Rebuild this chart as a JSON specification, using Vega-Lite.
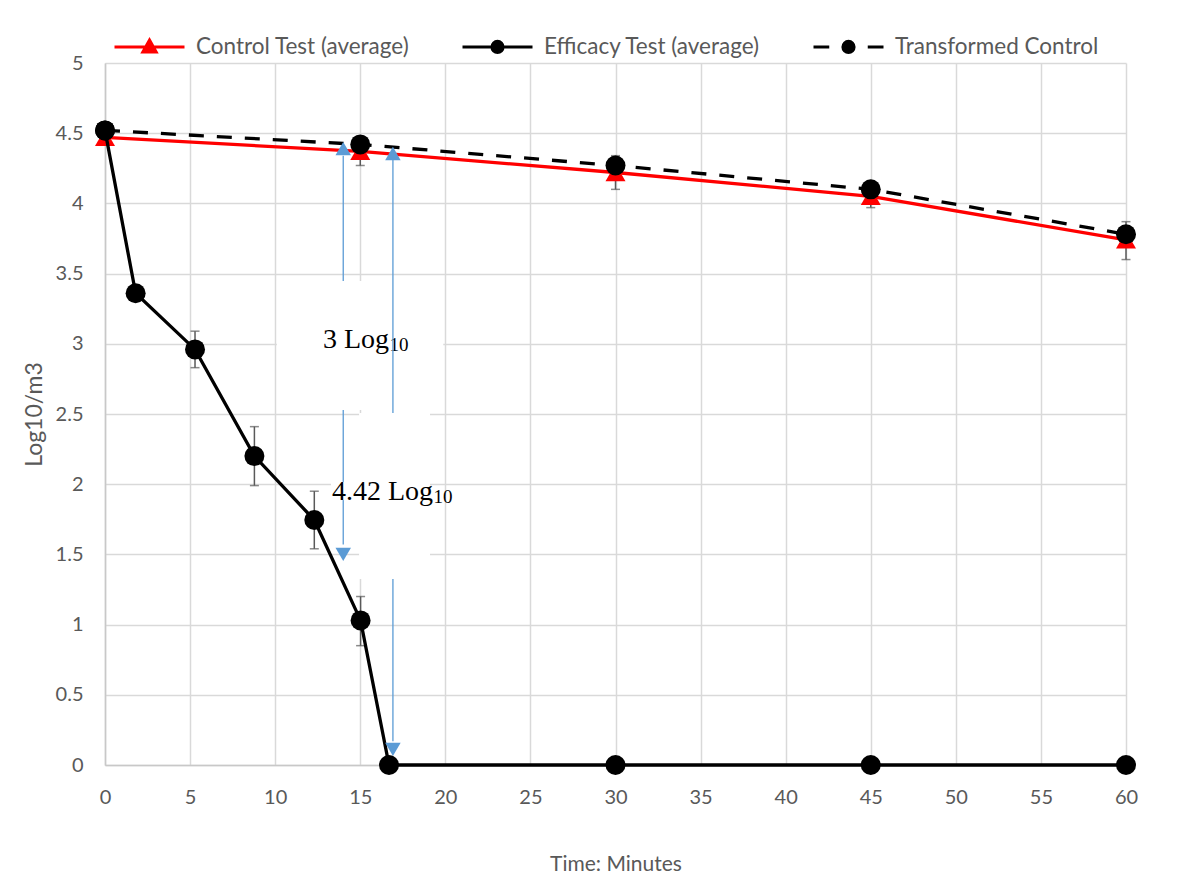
{
  "$schema": "https://vega.github.io/schema/vega-lite/v6.json",
  "width": 1021,
  "height": 702,
  "autosize": {"type": "none"},
  "padding": {"left": 105, "top": 63, "right": 54, "bottom": 131},
  "background": "white",
  "config": {
    "view": {"stroke": null},
    "font": "Lato",
    "axis": {
      "gridColor": "#D9D9D9", "gridWidth": 1.5,
      "domainColor": "#C8C8C8", "domainWidth": 1.5,
      "ticks": false,
      "labelColor": "#595959", "labelFont": "Lato", "labelFontSize": 20,
      "titleColor": "#595959", "titleFont": "Lato", "titleFontSize": 21, "titleFontWeight": "normal"
    }
  },
  "datasets": {
    "control": [
      {"t": 0, "v": 4.47}, {"t": 15, "v": 4.37}, {"t": 30, "v": 4.22}, {"t": 45, "v": 4.05}, {"t": 60, "v": 3.74}
    ],
    "transformed": [
      {"t": 0, "v": 4.52}, {"t": 15, "v": 4.42}, {"t": 30, "v": 4.27}, {"t": 45, "v": 4.10}, {"t": 60, "v": 3.78}
    ],
    "efficacy": [
      {"t": 0, "v": 4.52}, {"t": 1.8, "v": 3.36}, {"t": 5.29, "v": 2.96}, {"t": 8.78, "v": 2.2},
      {"t": 12.3, "v": 1.745}, {"t": 15.02, "v": 1.03}, {"t": 16.69, "v": 0},
      {"t": 30, "v": 0}, {"t": 45, "v": 0}, {"t": 60, "v": 0}
    ],
    "errors": [
      {"t": 5.29, "v": 2.83, "v2": 3.09}, {"t": 8.78, "v": 1.99, "v2": 2.41},
      {"t": 12.3, "v": 1.54, "v2": 1.95}, {"t": 15.02, "v": 0.85, "v2": 1.2},
      {"t": 15, "v": 4.27, "v2": 4.43}, {"t": 30, "v": 4.1, "v2": 4.34},
      {"t": 45, "v": 3.97, "v2": 4.13}, {"t": 60, "v": 3.6, "v2": 3.87}
    ]
  },
  "layer": [
    {
      "data": {"name": "errors"},
      "mark": {"type": "rule", "color": "#595959", "strokeWidth": 1.5},
      "encoding": {
        "x": {"field": "t", "type": "quantitative", "scale": {"domain": [0, 60], "nice": false},
              "axis": {"values": [0,5,10,15,20,25,30,35,40,45,50,55,60], "title": "Time: Minutes", "labelPadding": 22, "titlePadding": 46, "grid": true, "domain": true, "labelFlush": false}},
        "y": {"field": "v", "type": "quantitative", "scale": {"domain": [0, 5], "nice": false},
              "axis": {"values": [0,0.5,1,1.5,2,2.5,3,3.5,4,4.5,5], "format": "~g", "title": "Log10/m3", "titleFontSize": 23, "labelPadding": 22, "titlePadding": 9, "grid": true, "domain": true}},
        "y2": {"field": "v2"}
      }
    },
    {
      "data": {"name": "errors"},
      "mark": {"type": "tick", "orient": "horizontal", "color": "#595959", "size": 9, "thickness": 1.5},
      "encoding": {
        "x": {"field": "t", "type": "quantitative"},
        "y": {"field": "v", "type": "quantitative"}
      }
    },
    {
      "data": {"name": "errors"},
      "mark": {"type": "tick", "orient": "horizontal", "color": "#595959", "size": 9, "thickness": 1.5},
      "encoding": {
        "x": {"field": "t", "type": "quantitative"},
        "y": {"field": "v2", "type": "quantitative"}
      }
    },
    {
      "data": {"name": "control"},
      "mark": {"type": "line", "color": "#FF0000", "strokeWidth": 3.3},
      "encoding": {"x": {"field": "t", "type": "quantitative"}, "y": {"field": "v", "type": "quantitative"}}
    },
    {
      "data": {"name": "control"},
      "mark": {"type": "point", "shape": "triangle-up", "filled": true, "color": "#FF0000", "size": 400, "opacity": 1},
      "encoding": {"x": {"field": "t", "type": "quantitative"}, "y": {"field": "v", "type": "quantitative"}}
    },
    {
      "data": {"name": "transformed"},
      "mark": {"type": "line", "color": "#000000", "strokeWidth": 3.3, "strokeDash": [15, 13]},
      "encoding": {"x": {"field": "t", "type": "quantitative"}, "y": {"field": "v", "type": "quantitative"}}
    },
    {
      "data": {"name": "transformed"},
      "mark": {"type": "point", "shape": "circle", "filled": true, "color": "#000000", "size": 400, "opacity": 1},
      "encoding": {"x": {"field": "t", "type": "quantitative"}, "y": {"field": "v", "type": "quantitative"}}
    },
    {
      "data": {"name": "efficacy"},
      "mark": {"type": "line", "color": "#000000", "strokeWidth": 3.3},
      "encoding": {"x": {"field": "t", "type": "quantitative"}, "y": {"field": "v", "type": "quantitative"}}
    },
    {
      "data": {"name": "efficacy"},
      "mark": {"type": "point", "shape": "circle", "filled": true, "color": "#000000", "size": 400, "opacity": 1},
      "encoding": {"x": {"field": "t", "type": "quantitative"}, "y": {"field": "v", "type": "quantitative"}}
    },
    {
      "data": {"values": [{"t": 14, "v": 1.57, "v2": 4.34}]},
      "mark": {"type": "rule", "color": "#5B9BD5", "strokeWidth": 1.3},
      "encoding": {"x": {"field": "t", "type": "quantitative"}, "y": {"field": "v", "type": "quantitative"}, "y2": {"field": "v2"}}
    },
    {
      "data": {"values": [{"t": 10.1, "t2": 19.88, "v": 2.528, "v2": 3.447}]},
      "mark": {"type": "rect", "color": "#FFFFFF"},
      "encoding": {"x": {"field": "t", "type": "quantitative"}, "x2": {"field": "t2"}, "y": {"field": "v", "type": "quantitative"}, "y2": {"field": "v2"}}
    },
    {
      "data": {"values": [{"t": 12.81, "v": 2.97, "s": "3 Log"}]},
      "mark": {"type": "text", "font": "Liberation Serif", "fontSize": 28, "color": "#000000", "align": "left", "baseline": "alphabetic"},
      "encoding": {"x": {"field": "t", "type": "quantitative"}, "y": {"field": "v", "type": "quantitative"}, "text": {"field": "s"}}
    },
    {
      "data": {"values": [{"t": 16.72, "v": 2.95, "s": "10"}]},
      "mark": {"type": "text", "font": "Liberation Serif", "fontSize": 19, "color": "#000000", "align": "left", "baseline": "alphabetic"},
      "encoding": {"x": {"field": "t", "type": "quantitative"}, "y": {"field": "v", "type": "quantitative"}, "text": {"field": "s"}}
    },
    {
      "data": {"values": [{"t": 16.92, "v": 0.17, "v2": 4.31}]},
      "mark": {"type": "rule", "color": "#5B9BD5", "strokeWidth": 1.3},
      "encoding": {"x": {"field": "t", "type": "quantitative"}, "y": {"field": "v", "type": "quantitative"}, "y2": {"field": "v2"}}
    },
    {
      "data": {"values": [{"t": 14.93, "t2": 19.1, "v": 1.325, "v2": 2.507}, {"t": 13.28, "t2": 15, "v": 1.887, "v2": 2.016}]},
      "mark": {"type": "rect", "color": "#FFFFFF"},
      "encoding": {"x": {"field": "t", "type": "quantitative"}, "x2": {"field": "t2"}, "y": {"field": "v", "type": "quantitative"}, "y2": {"field": "v2"}}
    },
    {
      "data": {"values": [{"t": 13.34, "v": 1.887, "s": "4.42 Log"}]},
      "mark": {"type": "text", "font": "Liberation Serif", "fontSize": 28, "color": "#000000", "align": "left", "baseline": "alphabetic"},
      "encoding": {"x": {"field": "t", "type": "quantitative"}, "y": {"field": "v", "type": "quantitative"}, "text": {"field": "s"}}
    },
    {
      "data": {"values": [{"t": 19.3, "v": 1.866, "s": "10"}]},
      "mark": {"type": "text", "font": "Liberation Serif", "fontSize": 19, "color": "#000000", "align": "left", "baseline": "alphabetic"},
      "encoding": {"x": {"field": "t", "type": "quantitative"}, "y": {"field": "v", "type": "quantitative"}, "text": {"field": "s"}}
    },
    {
      "data": {"values": [{"t": 14, "v": 4.39}, {"t": 16.92, "v": 4.355}]},
      "mark": {"type": "point", "shape": "triangle-up", "filled": true, "color": "#5B9BD5", "size": 240, "opacity": 1},
      "encoding": {"x": {"field": "t", "type": "quantitative"}, "y": {"field": "v", "type": "quantitative"}}
    },
    {
      "data": {"values": [{"t": 14, "v": 1.5}, {"t": 16.92, "v": 0.111}]},
      "mark": {"type": "point", "shape": "triangle-down", "filled": true, "color": "#5B9BD5", "size": 240, "opacity": 1},
      "encoding": {"x": {"field": "t", "type": "quantitative"}, "y": {"field": "v", "type": "quantitative"}}
    },
    {
      "data": {"values": [
        {"t": -50, "v": -50, "s": "Control Test (average)"},
        {"t": -50, "v": -50, "s": "Efficacy Test (average)"},
        {"t": -50, "v": -50, "s": "Transformed Control"}
      ]},
      "mark": {"type": "point", "filled": true, "clip": true, "strokeWidth": 3, "opacity": 1},
      "encoding": {
        "x": {"field": "t", "type": "quantitative"},
        "y": {"field": "v", "type": "quantitative"},
        "color": {"field": "s", "type": "nominal",
          "scale": {"domain": ["Control Test (average)", "Efficacy Test (average)", "Transformed Control"], "range": ["#FF0000", "#000000", "#000000"]},
          "legend": {"title": null, "orient": "none", "legendX": 8, "legendY": -53, "direction": "horizontal", "symbolSize": 4900, "symbolStrokeWidth": 3, "symbolOpacity": 1, "labelFont": "Lato", "labelFontSize": 22.5, "labelColor": "#595959", "labelOffset": 10, "labelLimit": 0, "columnPadding": 46, "padding": 0}},
        "stroke": {"field": "s", "type": "nominal",
          "scale": {"domain": ["Control Test (average)", "Efficacy Test (average)", "Transformed Control"], "range": ["#FF0000", "#000000", "#000000"]},
          "legend": {"title": null, "orient": "none", "legendX": 8, "legendY": -53, "direction": "horizontal", "symbolSize": 4900, "symbolStrokeWidth": 3, "symbolOpacity": 1, "labelFont": "Lato", "labelFontSize": 22.5, "labelColor": "#595959", "labelOffset": 10, "labelLimit": 0, "columnPadding": 46, "padding": 0}},
        "shape": {"field": "s", "type": "nominal",
          "scale": {"domain": ["Control Test (average)", "Efficacy Test (average)", "Transformed Control"],
                    "range": ["M-1,0H1M0,-0.2L0.19,0.14L-0.19,0.14Z", "M-1,0H1M0.16,0A0.16,0.16,0,1,1,-0.16,0A0.16,0.16,0,1,1,0.16,0Z", "M-1,0H-0.55M0.55,0H1M0.16,0A0.16,0.16,0,1,1,-0.16,0A0.16,0.16,0,1,1,0.16,0Z"]},
          "legend": {"title": null, "orient": "none", "legendX": 8, "legendY": -53, "direction": "horizontal", "symbolSize": 4900, "symbolStrokeWidth": 3, "symbolOpacity": 1, "labelFont": "Lato", "labelFontSize": 22.5, "labelColor": "#595959", "labelOffset": 10, "labelLimit": 0, "columnPadding": 46, "padding": 0}}
      }
    }
  ]
}
